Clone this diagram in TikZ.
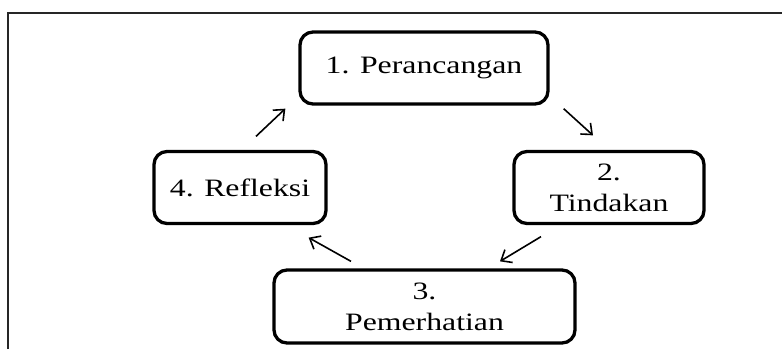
\documentclass[tikz,border=0pt]{standalone}
\usepackage{fontspec}
\setmainfont{Liberation Serif}
\usetikzlibrary{arrows.meta}
\newcommand{\wide}[1]{\scalebox{1.27}[1]{#1}}
\tikzset{
	stage/.style={draw=black, line width=3.3pt, rounded corners=13pt, align=center,
		minimum height=72pt, inner sep=0pt, font=\fontsize{25}{26}\selectfont},
	cyc/.style={line width=1.6pt, -{Straight Barb[length=9pt,width=15pt,line width=1.6pt]}}
}

\begin{document}
\begin{tikzpicture}[x=1pt,y=-1pt]
	\useasboundingbox (0,0) rectangle (782,349);
	\draw[line width=2pt, black!85] (8,349)--(8,13)--(782,13);
	\node[stage, minimum width=248pt] (per) at (424,68){\wide{1. Perancangan}};
	\node[stage, minimum width=190pt] (tin) at (609,187.5){\wide{2.}\\[5pt]\wide{Tindakan}};
	\node[stage, minimum width=301pt, minimum height=73pt] (pem) at (424.5,306.5){\wide{3.}\\[5pt]\wide{Pemerhatian}};
	\node[stage, minimum width=172pt] (ref) at (240,187.5){\wide{4. Refleksi}};
	\draw[cyc] ([shift={(16,-13.5)}]ref.north)--([shift={(-13,3)}]per.south west);
	\draw[cyc] ([shift={(14,3)}]per.south east)--([shift={(-16,-14.5)}]tin.north);
	\draw[cyc] ([shift={(-68,11.5)}]tin.south)--([shift={(75.5,-7)}]pem.north);
	\draw[cyc] ([shift={(-73.5,-7)}]pem.north)--([shift={(-19,12.5)}]ref.south east);
\end{tikzpicture}
\end{document}
